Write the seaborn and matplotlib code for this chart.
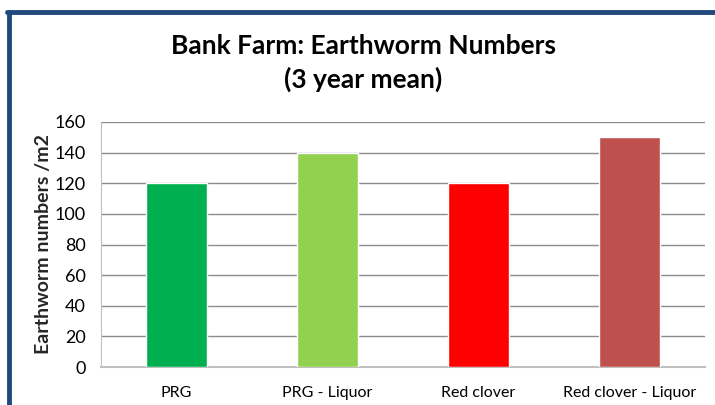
import matplotlib
matplotlib.use('Agg')
import matplotlib.pyplot as plt
import seaborn as sns
import pandas as pd

# data
treatments = ['PRG', 'PRG - Liquor', 'Red clover', 'Red clover - Liquor']
worms = [120, 140, 120, 150]
bar_colours = ['#00B050', '#92D050', '#FF0000', '#C0504D']

df = pd.DataFrame({'Treatment': treatments, 'Worms': worms})

sns.set_style('white')
plt.rcParams['font.family'] = ['Lato', 'DejaVu Sans']

fig = plt.figure(figsize=(7.15, 4.05), dpi=100)
ax = fig.add_axes([101 / 715, 1 - 367 / 405, 604 / 715, 245 / 405])

sns.barplot(x='Treatment', y='Worms', hue='Treatment', data=df, palette=bar_colours,
            legend=False, width=0.4, saturation=1, ax=ax, zorder=3)

ax.set_ylim(0, 160)
ax.set_yticks(range(0, 161, 20))
ax.yaxis.grid(True, color='#8C8C8C', linewidth=1, zorder=0)
ax.set_axisbelow(True)
for s in ['top', 'right']:
    ax.spines[s].set_visible(False)
ax.spines['left'].set_color('#BFBFBF')
ax.spines['bottom'].set_color('#BFBFBF')
ax.spines['bottom'].set_linewidth(1.5)
ax.tick_params(axis='y', labelsize=13, colors='#000000', length=0, pad=11)
ax.tick_params(axis='x', labelsize=11.5, colors='#000000', length=0, pad=14)
ax.set_xlabel('')
ax.set_ylabel('Earthworm numbers /m2', fontsize=14, fontweight='bold', labelpad=2)

fig.text(0.508, 1 - 63 / 405, 'Bank Farm: Earthworm Numbers\n(3 year mean)', ha='center',
         va='center', fontsize=19, fontweight='bold', linespacing=1.38, color='black')

# blue frame round the chart area
fig.add_artist(plt.Line2D([9 / 715, 9 / 715], [0, 1 - 12 / 405], color='#1F497D', linewidth=3.5))
fig.add_artist(plt.Line2D([7.3 / 715, 1], [1 - 12 / 405, 1 - 12 / 405], color='#1F497D', linewidth=3.5))

fig.savefig('out.png', dpi=100)
